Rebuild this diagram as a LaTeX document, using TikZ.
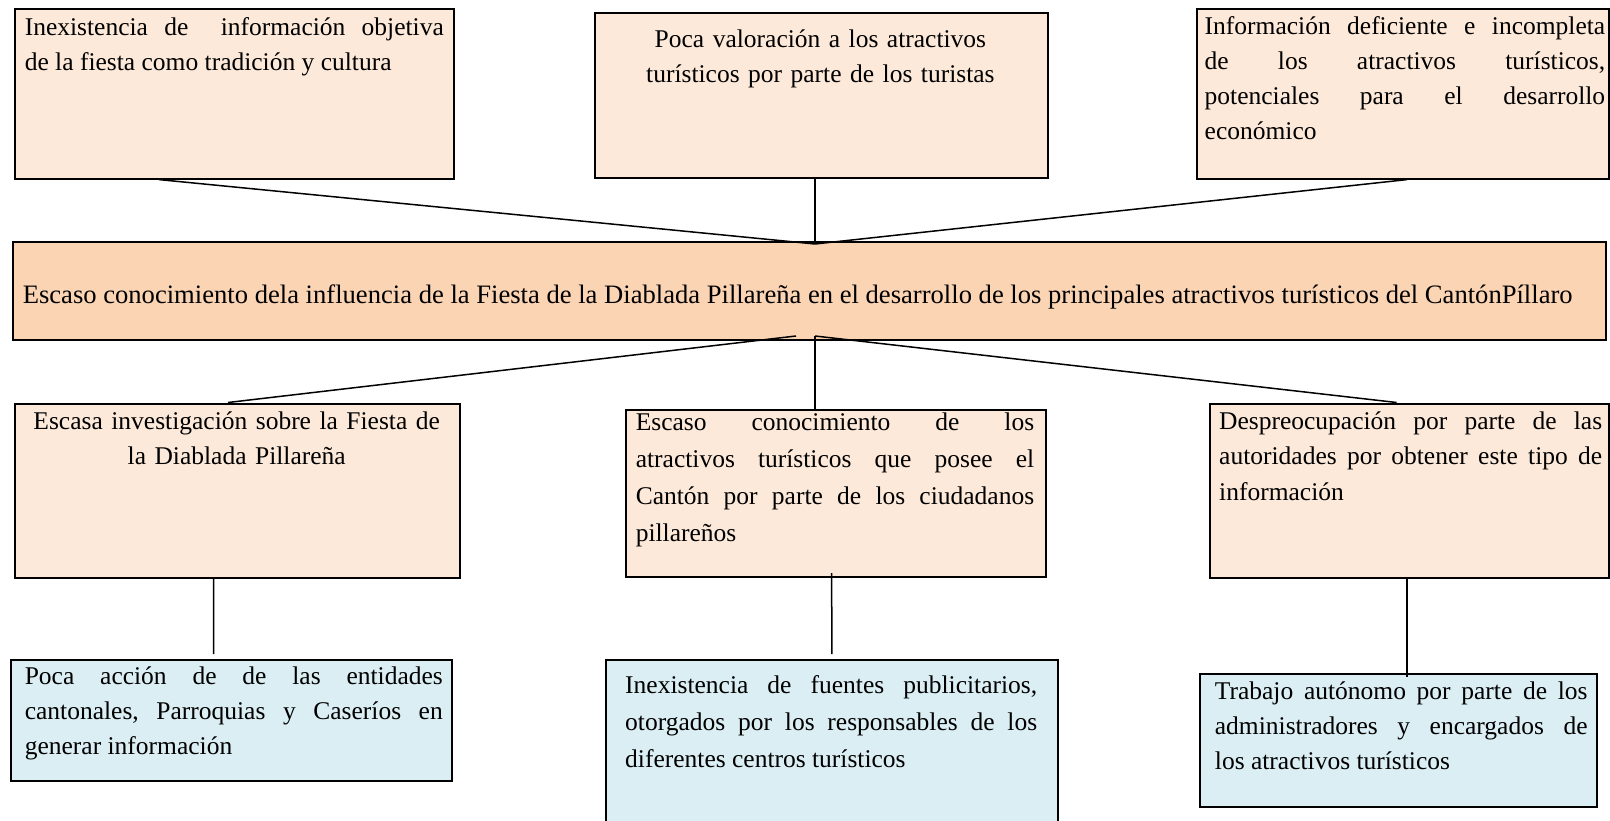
\documentclass[tikz,border=0pt]{standalone}
\usepackage{fontspec}
\setmainfont{Liberation Serif}
\usetikzlibrary{calc}
\definecolor{peach}{HTML}{FDE9D9}
\definecolor{peachmid}{HTML}{FBD4B4}
\definecolor{paleblue}{HTML}{DAEEF3}
\begin{document}
\begin{tikzpicture}[x=1pt,y=-1pt,
  box/.style={draw=black, line width=2pt, rectangle, inner sep=0pt, anchor=north west},
  cause/.style={box, fill=peach},
  core/.style={box, fill=peachmid},
  effect/.style={box, fill=paleblue},
  txt/.style={inner sep=0pt, anchor=base west, align=justify, font=\fontsize{25.5}{35}\selectfont},
  txtw/.style={txt, font=\fontsize{25.5}{37}\selectfont},
  txtc/.style={txt, anchor=base, align=center},
  link/.style={draw=black, line width=1.5pt}
]
\useasboundingbox (0,0) rectangle (1610,821);

% boxes
\node[cause, minimum width=438.4pt, minimum height=169.4pt] (b1) at (14.4,8.2) {};
\node[cause, minimum width=453.8pt, minimum height=164.3pt] (b2) at (593.5,12.3) {};
\node[cause, minimum width=412pt, minimum height=169.4pt] (b3) at (1196,8.2) {};
\node[core, minimum width=1592.7pt, minimum height=97.5pt] (mid) at (12.3,241.3) {};
\node[cause, minimum width=444.6pt, minimum height=174.5pt] (b4) at (14.4,402.5) {};
\node[cause, minimum width=420pt, minimum height=167.3pt] (b5) at (625.3,408.7) {};
\node[cause, minimum width=399.4pt, minimum height=174.5pt] (b6) at (1208.6,402.5) {};
\node[effect, minimum width=440.5pt, minimum height=121.2pt] (b7) at (10.3,659.2) {};
\node[effect, minimum width=451.7pt, minimum height=170pt] (b8) at (604.8,659.2) {};
\node[effect, minimum width=396.4pt, minimum height=133.5pt] (b9) at (1199.3,672.5) {};

% texts
\node[txt, text width=419pt] (t1) at (24.6,36) {Inexistencia~de~~información~objetiva \linebreak de~la~fiesta~como~tradición~y~cultura};
\node[txtc, text width=440pt] (t2) at (820.4,48) {Poca valoración a los atractivos\\turísticos por parte de los turistas};
\node[txt, text width=400.5pt] (t3) at (1204.5,35) {Información~deficiente~e~incompleta \linebreak de~los~atractivos~turísticos, \linebreak potenciales~para~el~desarrollo \linebreak económico};
\node[txt, align=left, font=\fontsize{26.6}{35}\selectfont] (tm) at (22.6,303) {Escaso conocimiento dela influencia de la Fiesta de la Diablada Pillareña en el desarrollo de los principales atractivos turísticos del CantónPíllaro};
\node[txtc, text width=430pt] (t4) at (236.7,429) {Escasa investigación sobre la Fiesta de\\la Diablada Pillareña};
\node[txtw, text width=398.4pt] (t5) at (635.6,430) {Escaso~conocimiento~de~los \linebreak atractivos~turísticos~que~posee~el \linebreak Cantón~por~parte~de~los~ciudadanos \linebreak pillareños};
\node[txt, text width=383pt, font=\fontsize{25.5}{35.8}\selectfont] (t6) at (1219,429) {Despreocupación~por~parte~de~las \linebreak autoridades~por~obtener~este~tipo~de \linebreak información};
\node[txt, text width=418pt] (t7) at (24.6,684) {Poca~acción~de~de~las~entidades \linebreak cantonales,~Parroquias~y~Caseríos~en \linebreak generar~información};
\node[txtw, text width=412pt] (t8) at (625,693) {Inexistencia~de~fuentes~publicitarios, \linebreak otorgados~por~los~responsables~de~los \linebreak diferentes~centros~turísticos};
\node[txt, text width=372.7pt] (t9) at (1214.7,699) {Trabajo~autónomo~por~parte~de~los \linebreak administradores~y~encargados~de \linebreak los~atractivos~turísticos};

% connectors
\coordinate (apexT) at (815,244);
\coordinate (apexBL) at (796,336);
\coordinate (apexBR) at (815,336);
\draw[link] ($(b1.south west)+(144.6,0)$) -- (apexT);
\draw[link] (b2.south -| apexT) -- (apexT);
\draw[link] ($(b3.south west)+(211,0)$) -- (apexT);
\draw[link] (apexBL) -- ($(b4.north west)+(213.6,0)$);
\draw[link] (apexBR) -- (b5.north -| apexBR);
\draw[link] (apexBR) -- ($(b6.north west)+(188,0)$);
\draw[link] ($(b4.south west)+(199.2,0)$) -- ($(b7.north west)+(203.3,-5)$);
\draw[link] ($(b5.south west)+(206.4,-5)$) -- ($(b8.north west)+(227,-5)$);
\draw[link] ($(b6.south west)+(198.4,0)$) -- ($(b9.north west)+(207.7,4)$);
\end{tikzpicture}
\end{document}
